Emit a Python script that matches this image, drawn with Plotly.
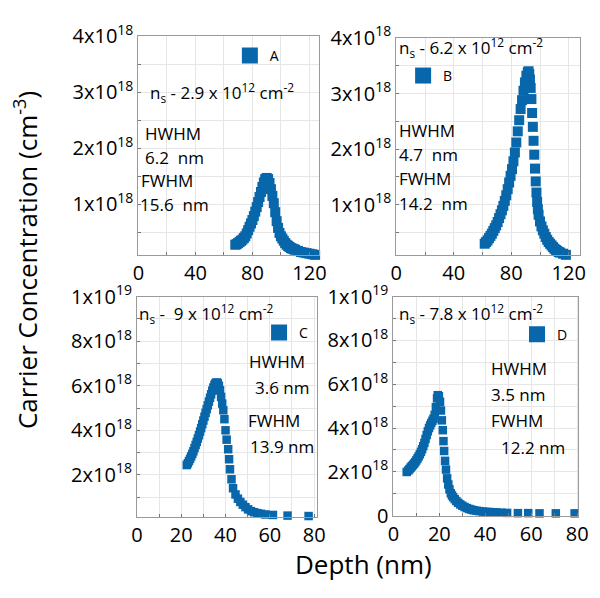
import plotly.graph_objects as go

# ---------------- data (carrier concentration in units of 1e18 cm^-3) ----------------
depth_A = [68, 69, 70, 71, 72, 73, 74, 75, 76, 77, 78, 79, 80, 81, 82, 83, 84, 85, 86, 87, 88, 89, 90,
           91, 92, 93, 94, 95, 96, 97, 98, 99, 100, 101, 102, 103, 104, 105, 106, 107, 108, 109, 110,
           112, 114, 116, 118, 120, 122, 124, 126]
conc_A = [0.28, 0.29, 0.31, 0.33, 0.35, 0.37, 0.40, 0.43, 0.48, 0.54, 0.60, 0.66, 0.72, 0.79, 0.87, 0.95,
          1.04, 1.13, 1.22, 1.31, 1.39, 1.45, 1.47,
          1.45, 1.38, 1.27, 1.15, 1.02, 0.86, 0.70, 0.58, 0.49, 0.43, 0.39, 0.35, 0.31, 0.28, 0.26, 0.24,
          0.22, 0.21, 0.20, 0.19, 0.17, 0.15, 0.14, 0.13, 0.12, 0.11, 0.10, 0.09]

depth_B = [61.5, 62.5, 63.5, 64.5, 65.5, 66.5, 67.5, 68.5, 69.5, 70.5, 71.5, 72.5, 73.5, 74.5, 75.5, 76.5,
           77.5, 78.5, 79.5, 80.5, 81.5, 82.5, 83.5, 84.5, 85.5, 86.5, 87.5, 88.5, 89.5, 90.5, 91.5,
           92, 92.5, 93, 93.5, 94, 94.5, 95, 95.5, 96, 96.5, 97, 97.5, 98, 98.5, 99, 100, 101, 102, 103,
           104, 105, 106, 107, 108, 109, 110, 111, 112, 113, 114, 116, 118, 120, 122, 124, 126]
conc_B = [0.30, 0.33, 0.36, 0.40, 0.44, 0.48, 0.53, 0.58, 0.63, 0.69, 0.76, 0.83, 0.90, 0.98, 1.07, 1.17,
          1.28, 1.40, 1.52, 1.64, 1.78, 1.94, 2.12, 2.32, 2.52, 2.72, 2.88, 3.05, 3.20, 3.32, 3.38,
          3.40, 3.35, 3.25, 3.10, 2.90, 2.65, 2.40, 2.15, 1.90, 1.65, 1.42, 1.22, 1.05, 0.92, 0.82, 0.70,
          0.61, 0.54, 0.48, 0.42, 0.37, 0.33, 0.30, 0.27, 0.24, 0.21, 0.19, 0.17, 0.15, 0.14, 0.12, 0.10,
          0.09, 0.08, 0.07, 0.06]

depth_C = [22.5, 23, 23.5, 24, 24.5, 25, 25.5, 26, 26.5, 27, 27.5, 28, 28.5, 29, 29.5, 30, 30.5, 31, 31.5,
           32, 32.5, 33, 33.5, 34, 34.5, 35, 35.5, 36, 36.5, 37, 37.5, 38, 38.5, 39, 39.5, 40, 40.5, 41.2,
           41.6, 42, 42.7, 43.4, 44.5, 45.6, 46.7, 47.8, 49, 50.2, 51.5, 52.9, 54.4, 56, 58, 61.4, 68, 77.5]
conc_C = [2.44, 2.52, 2.62, 2.72, 2.83, 2.94, 3.06, 3.20, 3.34, 3.48, 3.63, 3.78, 3.94, 4.10, 4.27, 4.44,
          4.61, 4.78, 4.95, 5.12, 5.29, 5.46, 5.62, 5.78, 5.92, 6.04, 6.12, 6.15, 6.12, 6.00, 5.80, 5.50,
          5.20, 4.90, 4.50, 4.00, 3.58, 3.15, 2.70, 2.25, 1.80, 1.40, 1.12, 0.93, 0.78, 0.66, 0.55, 0.45,
          0.37, 0.32, 0.28, 0.25, 0.22, 0.20, 0.17, 0.15]

depth_D = [5.8, 6.5, 7, 7.5, 8, 8.5, 9, 9.5, 10, 10.5, 11, 11.5, 12, 12.5, 13, 13.5, 14, 14.5, 15, 15.5, 16,
           16.5, 17, 17.5, 18, 18.5, 19, 19.3, 19.8, 20.3, 20.7, 21.1, 21.5, 21.8, 22.1, 22.5, 22.9, 23.4,
           23.9, 24.4, 25, 25.5, 26, 26.7, 27.4, 28.2, 29.1, 30, 31, 32, 33, 34, 35, 36.2, 37.5, 39, 40.5,
           42, 43.5, 45, 47, 49.5, 54.2, 58.7, 63.6, 70.7, 78.9]
conc_D = [1.99, 2.06, 2.12, 2.19, 2.25, 2.31, 2.37, 2.44, 2.52, 2.61, 2.70, 2.80, 2.91, 3.03, 3.17, 3.32,
          3.50, 3.68, 3.85, 4.00, 4.12, 4.23, 4.33, 4.43, 4.60, 4.95, 5.35, 5.50, 5.45, 5.20, 4.80, 4.35,
          3.90, 3.40, 2.95, 2.50, 2.10, 1.70, 1.42, 1.20, 1.02, 0.92, 0.84, 0.75, 0.66, 0.58, 0.51, 0.45,
          0.39, 0.34, 0.30, 0.27, 0.24, 0.22, 0.20, 0.18, 0.17, 0.16, 0.15, 0.14, 0.13, 0.12, 0.11, 0.11,
          0.10, 0.10, 0.10]

series_names = ["A", "B", "C", "D"]

xt_AB = [0, 40, 80, 120]
xt_CD = [0, 20, 40, 60, 80]
yt_AB = [1, 2, 3, 4]
yt_AB_text = ["1x10<sup>18</sup>", "2x10<sup>18</sup>", "3x10<sup>18</sup>", "4x10<sup>18</sup>"]
yt_C = [2, 4, 6, 8, 10]
yt_C_text = ["2x10<sup>18</sup>", "4x10<sup>18</sup>", "6x10<sup>18</sup>", "8x10<sup>18</sup>", "1x10<sup>19</sup>"]
yt_D = [0, 2, 4, 6, 8, 10]
yt_D_text = ["0", "2x10<sup>18</sup>", "4x10<sup>18</sup>", "6x10<sup>18</sup>", "8x10<sup>18</sup>", "1x10<sup>19</sup>"]

BLUE = "rgb(8,102,170)"
FONT = "Open Sans"
W, H = 600, 598

def px(xp):
    return xp / W

def py(yp):
    return 1 - yp / H

fig = go.Figure()

panels = [
    (depth_A, conc_A, "x", "y", 10),
    (depth_B, conc_B, "x2", "y2", 10),
    (depth_C, conc_C, "x3", "y3", 8.5),
    (depth_D, conc_D, "x4", "y4", 8.5),
]
legend_ids = ["legend", "legend2", "legend3", "legend4"]
for (xs, ys, xa, ya, ms), name, lg in zip(panels, series_names, legend_ids):
    fig.add_trace(go.Scatter(x=xs, y=ys, xaxis=xa, yaxis=ya, mode="markers", name=name,
                             marker=dict(symbol="square", size=ms, color=BLUE, line=dict(width=0)),
                             cliponaxis=False, showlegend=False))
    # legend-only entry (larger symbol as in the reference)
    fig.add_trace(go.Scatter(x=[None], y=[None], xaxis=xa, yaxis=ya, mode="markers", name=name,
                             marker=dict(symbol="square", size=16, color=BLUE),
                             showlegend=True, legend=lg))

grid = "#e6e6e6"
frame = "#9a9a9a"

def xaxis(domain, rng, tv, minor_dt, anchor):
    return dict(domain=domain, range=rng, tickvals=tv, ticktext=[str(v) for v in tv],
                showline=True, mirror=True, linecolor=frame, linewidth=1,
                showgrid=True, gridcolor=grid, gridwidth=1, zeroline=False,
                ticks="inside", ticklen=3, tickcolor="#777",
                tickfont=dict(family=FONT, size=20, color="black"),
                minor=dict(dtick=minor_dt, tick0=0, showgrid=True, gridcolor=grid,
                           ticks="inside", ticklen=3, tickcolor="#777"),
                anchor=anchor)

def yaxis(domain, rng, tv, tt, minor_dt, anchor):
    return dict(domain=domain, range=rng, tickvals=tv, ticktext=tt,
                showline=True, mirror=True, linecolor=frame, linewidth=1,
                showgrid=True, gridcolor=grid, gridwidth=1, zeroline=False,
                ticks="inside", ticklen=3, tickcolor="#777",
                tickfont=dict(family=FONT, size=20, color="black"),
                minor=dict(dtick=minor_dt, tick0=0, showgrid=True, gridcolor=grid,
                           ticks="inside", ticklen=3, tickcolor="#777"),
                anchor=anchor)

dom_xA = [px(136), px(322)]
dom_xB = [px(401), px(590)]
dom_xC = [px(134.5), px(320)]
dom_xD = [px(398), px(588)]
dom_yA = [py(251), py(21)]
dom_yB = [py(251), py(23)]
dom_yC = [py(526.7), py(295)]
dom_yD = [py(525), py(295)]

fig.update_layout(
    xaxis=xaxis(dom_xA, [0, 127], xt_AB, 20, "y"),
    yaxis=yaxis(dom_yA, [0.1, 4.0], yt_AB, yt_AB_text, 0.5, "x"),
    xaxis2=xaxis(dom_xB, [0, 128], xt_AB, 20, "y2"),
    yaxis2=yaxis(dom_yB, [0.1, 4.0], yt_AB, yt_AB_text, 0.5, "x2"),
    xaxis3=xaxis(dom_xC, [0, 81.5], xt_CD, 10, "y3"),
    yaxis3=yaxis(dom_yC, [0.1, 10.0], yt_C, yt_C_text, 1, "x3"),
    xaxis4=xaxis(dom_xD, [0, 80.5], xt_CD, 10, "y4"),
    yaxis4=yaxis(dom_yD, [0, 10.0], yt_D, yt_D_text, 1, "x4"),
)

def leg(xp, yp):
    return dict(x=px(xp), y=py(yp), xanchor="left", yanchor="middle",
                bgcolor="rgba(0,0,0,0)", borderwidth=0,
                font=dict(family=FONT, size=14, color="black"),
                itemwidth=30, tracegroupgap=0)

fig.update_layout(legend=leg(230, 42), legend2=leg(408, 63),
                  legend3=leg(260, 333), legend4=leg(525, 335))

ann_font = dict(family=FONT, size=17, color="black")
notes = [
    # (x px, y px, text, anchor)
    (146, 80, "n<sub>s</sub> - 2.9 x 10<sup>12</sup> cm<sup>-2</sup>", "left"),
    (141, 123, "HWHM", "left"),
    (141, 149, "6.2  nm", "left"),
    (137, 173, "FWHM", "left"),
    (136, 198, "15.6  nm", "left"),
    (402, 33, "n<sub>s</sub> - 6.2 x 10<sup>12</sup> cm<sup>-2</sup>", "left"),
    (402, 120, "HWHM", "left"),
    (402, 146, "4.7  nm", "left"),
    (402, 171, "FWHM", "left"),
    (402, 197, "14.2  nm", "left"),
    (135, 313, "n<sub>s</sub> -  9 x 10<sup>12</sup> cm<sup>-2</sup>", "left"),
    (309, 363, "HWHM", "right"),
    (314, 390, "3.6 nm", "right"),
    (304, 425, "FWHM", "right"),
    (319, 452, "13.9 nm", "right"),
    (402, 313, "n<sub>s</sub> - 7.8 x 10<sup>12</sup> cm<sup>-2</sup>", "left"),
    (496, 370, "HWHM", "left"),
    (496, 398, "3.5 nm", "left"),
    (496, 425, "FWHM", "left"),
    (506, 453, "12.2 nm", "left"),
]
for xp, yp, txt, anc in notes:
    fig.add_annotation(x=px(xp), y=py(yp), xref="paper", yref="paper", text=txt, showarrow=False,
                       xanchor=anc, yanchor="middle", font=ann_font)

fig.add_annotation(x=px(20), y=py(256), xref="paper", yref="paper",
                   text="Carrier Concentration (cm<sup>-3</sup>)", textangle=-90, showarrow=False,
                   xanchor="center", yanchor="middle", font=dict(family=FONT, size=26, color="black"))
fig.add_annotation(x=px(367), y=py(576), xref="paper", yref="paper", text="Depth (nm)", showarrow=False,
                   xanchor="center", yanchor="middle", font=dict(family=FONT, size=26, color="black"))

fig.update_layout(width=W, height=H, margin=dict(l=0, r=0, t=0, b=0),
                  paper_bgcolor="white", plot_bgcolor="white", font=dict(family=FONT))

fig.write_html("out.html")
